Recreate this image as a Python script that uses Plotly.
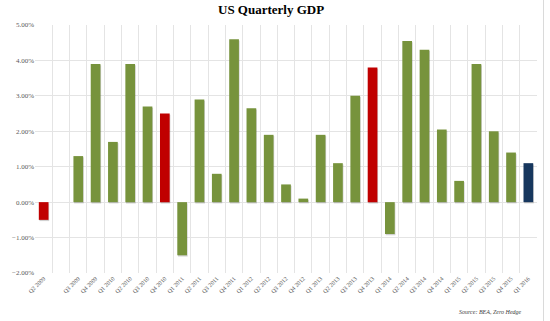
import plotly.graph_objects as go

quarters = ["Q2 2009", " ", "Q3 2009", "Q4 2009", "Q1 2010", "Q2 2010", "Q3 2010", "Q4 2010",
            "Q1 2011", "Q2 2011", "Q3 2011", "Q4 2011", "Q1 2012", "Q2 2012", "Q3 2012", "Q4 2012",
            "Q1 2013", "Q2 2013", "Q3 2013", "Q4 2013", "Q1 2014", "Q2 2014", "Q3 2014", "Q4 2014",
            "Q1 2015", "Q2 2015", "Q3 2015", "Q4 2015", "Q1 2016"]
gdp = [-0.5, None, 1.3, 3.9, 1.7, 3.9, 2.7, 2.5,
       -1.5, 2.9, 0.8, 4.6, 2.65, 1.9, 0.5, 0.1,
       1.9, 1.1, 3.0, 3.8, -0.9, 4.55, 4.3, 2.05,
       0.6, 3.9, 2.0, 1.4, 1.1]
highlight = {"Q2 2009": "red", "Q4 2010": "red", "Q4 2013": "red", "Q1 2016": "navy"}

palette = {"green": "#77933C", "red": "#C00000", "navy": "#17375E"}
colors = [palette[highlight.get(q, "green")] for q in quarters]

fig = go.Figure()
# soft drop shadow behind each bar
fig.add_trace(go.Bar(x=quarters, y=gdp, base=-0.035, offset=-0.24, width=0.56,
                     marker=dict(color="rgba(0,0,0,0.18)", line=dict(width=0)),
                     showlegend=False, hoverinfo="skip"))
fig.add_trace(go.Bar(x=quarters, y=gdp, offset=-0.28, width=0.56,
                     marker=dict(color=colors, line=dict(width=0)), showlegend=False))

serif = "Liberation Serif, Times New Roman, serif"
fig.update_layout(
    width=550, height=321,
    barmode="overlay",
    margin=dict(l=33, r=12.5, t=24.5, b=48),
    paper_bgcolor="white", plot_bgcolor="white",
    font=dict(family=serif, color="#595959"),
    xaxis=dict(type="category", tickson="boundaries", showgrid=True, gridcolor="#E4E4E4",
               gridwidth=1, tickangle=-45, tickfont=dict(size=6, color="#595959"),
               ticks="", showline=False, zeroline=False),
    yaxis=dict(range=[-2, 5], dtick=1, tickformat=".2f", ticksuffix="%",
               showgrid=True, gridcolor="#E4E4E4", gridwidth=1, zeroline=False,
               tickfont=dict(size=7, color="#595959"), ticks="", showline=False),
    annotations=[
        dict(text="<b>US Quarterly GDP</b>", xref="paper", yref="paper", x=0.47, y=1,
             yshift=16, xanchor="center", yanchor="middle", showarrow=False,
             font=dict(family=serif, size=13, color="black")),
        dict(text="<i>Source: BEA, Zero Hedge</i>", xref="paper", yref="paper", x=0.975,
             y=0, yshift=-39, xanchor="right", yanchor="middle", showarrow=False,
             font=dict(family=serif, size=6, color="#404040")),
    ],
    shapes=[dict(type="line", xref="paper", yref="paper", x0=1.013, x1=1.013, y0=-0.25, y1=1.12,
                 line=dict(color="#DADADA", width=1))],
)

fig.write_html("out.html")
